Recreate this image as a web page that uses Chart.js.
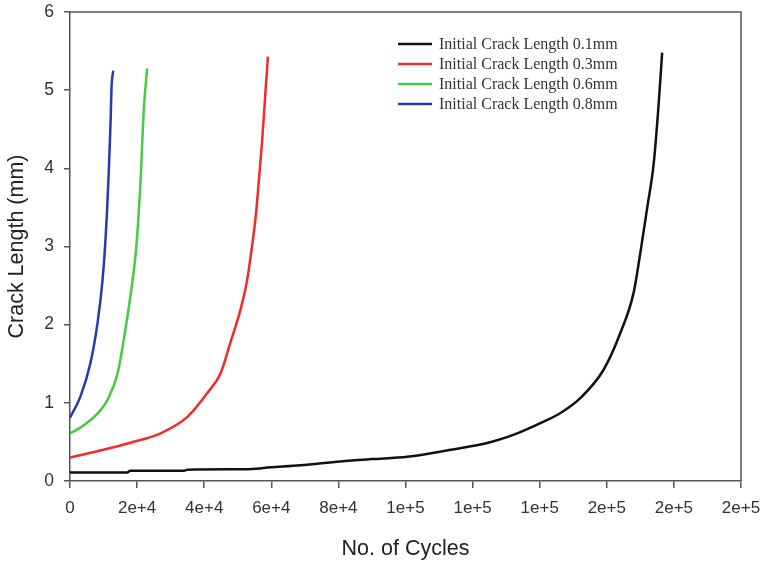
<!DOCTYPE html>
<html>
<head>
<meta charset="utf-8">
<script src="https://cdn.jsdelivr.net/npm/chart.js@4.4.1/dist/chart.umd.min.js"></script>
<style>
  html, body { margin: 0; padding: 0; background: #fff; }
  #wrap { width: 765px; height: 567px; }
</style>
</head>
<body>
<div id="wrap"><canvas id="c" width="765" height="567"></canvas></div>
<script>
// Crack growth curves: crack length (mm) against number of load cycles
const seriesNames = [
  'Initial Crack Length 0.1mm',
  'Initial Crack Length 0.3mm',
  'Initial Crack Length 0.6mm',
  'Initial Crack Length 0.8mm'
];
const seriesColors = ['#111111', '#f22a2a', '#45cc45', '#2a38b4'];

const cycles01 = [0, 17000, 18000, 34000, 35000, 52000, 60000, 68700, 80600, 90000, 100500, 113500, 125500, 133300, 140200, 146200, 152100, 159000, 164000, 168000, 170000, 172100, 174000, 175400, 176500];
const length01 = [0.11, 0.11, 0.13, 0.13, 0.145, 0.15, 0.175, 0.20, 0.25, 0.28, 0.31, 0.40, 0.50, 0.61, 0.74, 0.87, 1.06, 1.42, 1.89, 2.41, 2.92, 3.51, 4.07, 4.79, 5.48];

const cycles03 = [0, 9000, 18000, 27000, 35000, 41000, 44900, 47800, 50800, 52800, 54400, 55400, 56300, 57300, 58300, 59000];
const length03 = [0.30, 0.39, 0.49, 0.61, 0.82, 1.13, 1.38, 1.77, 2.19, 2.57, 3.05, 3.40, 3.85, 4.37, 5.00, 5.43];

const cycles06 = [0, 3000, 6100, 9000, 11200, 14200, 16000, 18000, 19500, 20000, 21000, 22000, 23000];
const length06 = [0.61, 0.68, 0.78, 0.90, 1.04, 1.38, 1.80, 2.36, 2.87, 3.12, 3.82, 4.75, 5.28];

const cycles08 = [0, 3100, 6100, 8200, 9700, 10600, 11100, 11600, 12100, 12400, 12900];
const length08 = [0.81, 1.08, 1.51, 2.02, 2.57, 3.10, 3.50, 4.00, 4.60, 5.05, 5.25];

const xTickLabels = ['0', '2e+4', '4e+4', '6e+4', '8e+4', '1e+5', '1e+5', '1e+5', '2e+5', '2e+5', '2e+5'];
const yTickLabels = ['0', '1', '2', '3', '4', '5', '6'];

const toPoints = (xs, ys) => xs.map((x, i) => ({ x: x, y: ys[i] }));
const allSeries = [[cycles01, length01], [cycles03, length03], [cycles06, length06], [cycles08, length08]];

const datasets = allSeries.map((s, i) => ({
  label: seriesNames[i],
  data: toPoints(s[0], s[1]),
  borderColor: seriesColors[i],
  backgroundColor: seriesColors[i],
  borderWidth: 2.5,
  pointRadius: 0,
  showLine: true,
  cubicInterpolationMode: 'monotone',
  fill: false
}));

// Top and right edges of the plot frame
const framePlugin = {
  id: 'frame',
  afterDraw(chart) {
    const { ctx, chartArea: a } = chart;
    ctx.save();
    ctx.strokeStyle = '#555';
    ctx.lineWidth = 1.5;
    ctx.beginPath();
    ctx.moveTo(a.left, a.top);
    ctx.lineTo(a.right, a.top);
    ctx.lineTo(a.right, a.bottom);
    ctx.stroke();
    ctx.restore();
  }
};

// Line-sample legend in the upper right of the plot
const legendPlugin = {
  id: 'seriesKey',
  afterDraw(chart) {
    const { ctx } = chart;
    const x0 = 398, x1 = 432, tx = 439, y0 = 44, dy = 20;
    ctx.save();
    ctx.font = '16px "Liberation Serif", "Times New Roman", serif';
    ctx.textBaseline = 'middle';
    ctx.textAlign = 'left';
    chart.data.datasets.forEach((ds, i) => {
      const y = y0 + i * dy;
      ctx.strokeStyle = ds.borderColor;
      ctx.lineWidth = 2.5;
      ctx.beginPath();
      ctx.moveTo(x0, y);
      ctx.lineTo(x1, y);
      ctx.stroke();
      ctx.fillStyle = '#333';
      ctx.fillText(ds.label, tx, y + 1);
    });
    ctx.restore();
  }
};

const sansFont = '"Liberation Sans", Arial, sans-serif';

new Chart(document.getElementById('c'), {
  type: 'scatter',
  data: { datasets: datasets },
  plugins: [framePlugin, legendPlugin],
  options: {
    responsive: false,
    animation: false,
    devicePixelRatio: 1,
    layout: { padding: { top: 12, right: 24, left: 0, bottom: 0 } },
    plugins: {
      legend: { display: false },
      tooltip: { enabled: false }
    },
    scales: {
      x: {
        type: 'linear',
        min: 0,
        max: 200000,
        afterFit(scale) {
          scale.height = 86;
          scale.paddingLeft = 0;
          scale.paddingRight = 0;
        },
        ticks: {
          stepSize: 20000,
          autoSkip: false,
          maxRotation: 0,
          padding: 10,
          color: '#333',
          font: { family: sansFont, size: 17 },
          callback: (v) => xTickLabels[Math.round(v / 20000)]
        },
        grid: { drawOnChartArea: false, drawTicks: true, tickLength: 7, color: '#555', lineWidth: 1.5 },
        border: { display: true, color: '#555', width: 1.5 },
        title: {
          display: true,
          text: 'No. of Cycles',
          color: '#222',
          font: { family: sansFont, size: 21.5 },
          padding: { top: 0, bottom: 5 }
        }
      },
      y: {
        type: 'linear',
        min: 0,
        max: 6,
        afterFit(scale) {
          scale.width = 70;
          scale.paddingTop = 0;
          scale.paddingBottom = 0;
        },
        ticks: {
          stepSize: 1,
          padding: 10,
          color: '#333',
          font: { family: sansFont, size: 17.5 },
          callback: (v) => yTickLabels[Math.round(v)]
        },
        grid: { drawOnChartArea: false, drawTicks: true, tickLength: 6, color: '#555', lineWidth: 1.5 },
        border: { display: true, color: '#555', width: 1.5 },
        title: {
          display: true,
          text: 'Crack Length (mm)',
          color: '#222',
          font: { family: sansFont, size: 21.5 },
          padding: { top: 4, bottom: 0 }
        }
      }
    }
  }
});
</script>
</body>
</html>
